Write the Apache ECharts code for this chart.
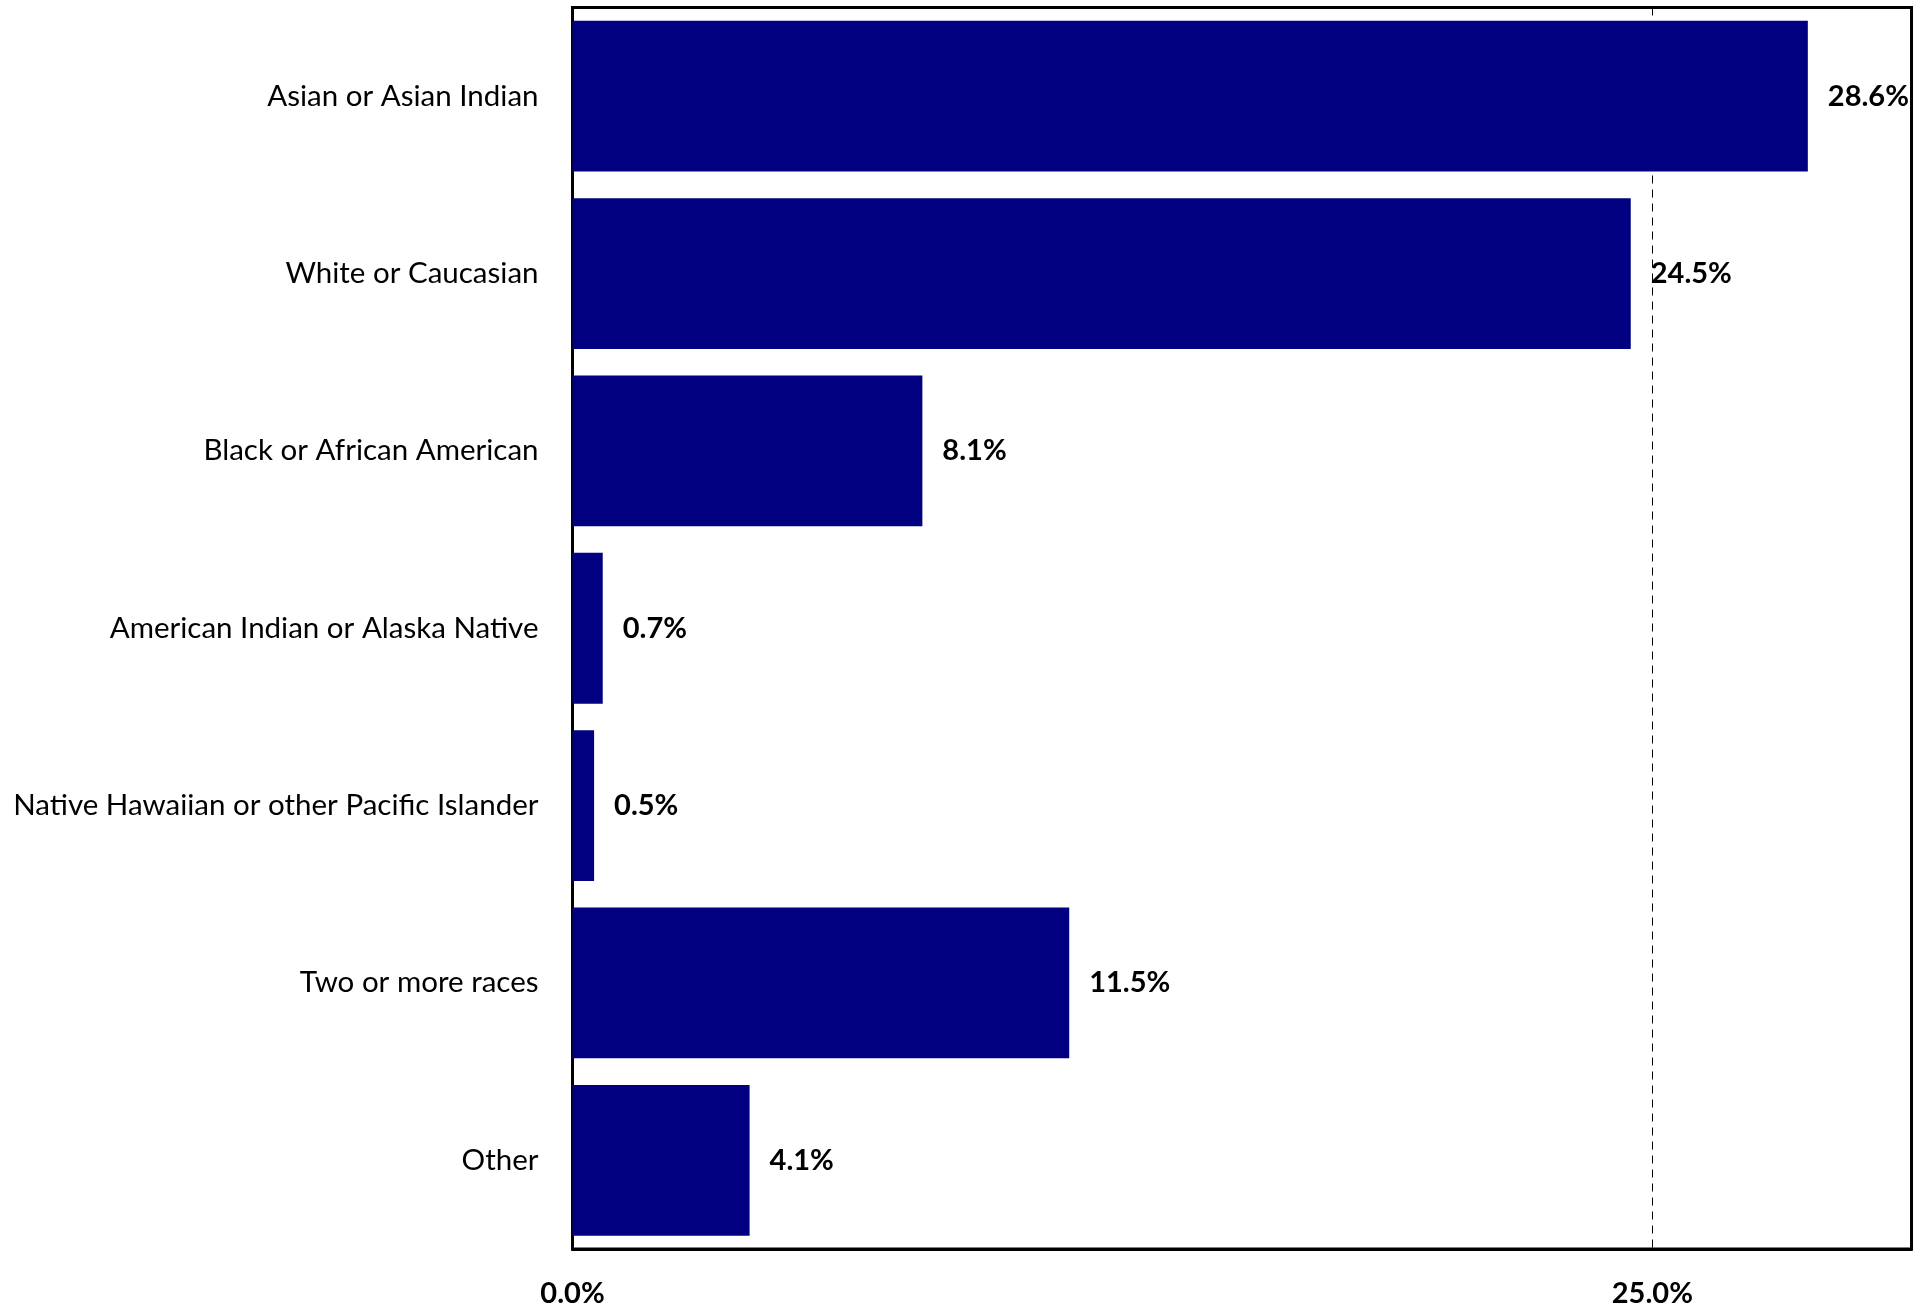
<!DOCTYPE html>
<html>
<head>
<meta charset="utf-8">
<script src="https://cdn.jsdelivr.net/npm/echarts@6/dist/echarts.min.js"></script>
<style>
html,body{margin:0;padding:0;background:#fff;}
#chart{width:1927px;height:1308px;}
</style>
</head>
<body>
<div id="chart"></div>
<script>
const categories = [
  "Asian or Asian Indian",
  "White or Caucasian",
  "Black or African American",
  "American Indian or Alaska Native",
  "Native Hawaiian or other Pacific Islander",
  "Two or more races",
  "Other"
];
const values = [28.6, 24.5, 8.1, 0.7, 0.5, 11.5, 4.1];
const axisMin = 0;
const axisMax = 31;
const axisInterval = 25;

const FONT = "Lato, 'Open Sans', sans-serif";
const chart = echarts.init(document.getElementById('chart'), null, {renderer: 'canvas'});
chart.setOption({
  animation: false,
  backgroundColor: '#ffffff',
  grid: {
    left: 572.5, right: 15.5, top: 7.5, bottom: 55.5,
    show: true, borderColor: '#000', borderWidth: 3, backgroundColor: 'transparent'
  },
  xAxis: {
    type: 'value',
    min: axisMin, max: axisMax, interval: axisInterval,
    axisLine: {show: true, lineStyle: {color: '#000', width: 3}},
    axisTick: {show: false},
    axisLabel: {
      show: true, showMaxLabel: false,
      formatter: v => v.toFixed(1) + '%',
      fontFamily: FONT, fontSize: 29, fontWeight: 'bold', color: '#000', margin: 30
    },
    splitLine: {show: true, lineStyle: {color: '#000', width: 1, type: [8, 6]}}
  },
  yAxis: {
    type: 'category',
    data: categories,
    inverse: true,
    axisLine: {show: true, lineStyle: {color: '#000', width: 3}},
    axisTick: {show: false},
    axisLabel: {fontFamily: FONT, fontSize: 29.5, color: '#000', margin: 34, padding: [3, 0, 0, 0]}
  },
  series: [{
    type: 'bar',
    data: values,
    barCategoryGap: '15%',
    itemStyle: {color: '#000080'},
    label: {
      show: true, position: 'right', distance: 20,
      formatter: p => p.value.toFixed(1) + '%',
      fontFamily: FONT, fontSize: 29, fontWeight: 'bold', color: '#000', padding: [3, 0, 0, 0]
    }
  }]
});
</script>
</body>
</html>
